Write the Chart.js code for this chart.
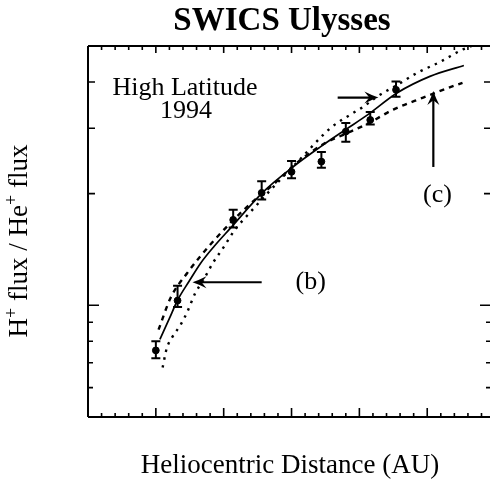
<!DOCTYPE html>
<html><head><meta charset="utf-8">
<script src="https://cdn.jsdelivr.net/npm/chart.js@4"></script>
<style>html,body{margin:0;padding:0;background:#fff;overflow:hidden;width:490px;height:484px}</style>
</head><body>
<canvas id="c" width="500" height="484" style="display:block;width:500px;height:484px"></canvas>
<script>
// ---- texts ----
const titleText = "SWICS Ulysses";
const xAxisLabel = "Heliocentric Distance (AU)";
const yAxisParts = [["H",false],["+",true],[" flux / He",false],["+",true],[" flux",false]];
const noteLines = ["High Latitude", "1994"];

// ---- measured data (distance in AU, H+/He+ flux ratio) ----
const distAU    = [1.50, 1.66, 2.07, 2.28, 2.50, 2.72, 2.90, 3.08, 3.27];
const ratio     = [0.756, 1.03, 1.70, 2.01, 2.29, 2.44, 2.94, 3.16, 3.81];
const ratioLow  = [0.72, 0.99, 1.62, 1.93, 2.20, 2.35, 2.76, 3.07, 3.65];
const ratioHigh = [0.80, 1.13, 1.81, 2.16, 2.45, 2.59, 3.10, 3.32, 4.01];

// ---- model curves ----
const solidX = [1.53, 1.60, 1.66, 1.745, 1.83, 1.93, 2.05, 2.29, 2.51, 2.71, 2.895, 3.06, 3.28, 3.52, 3.77];
const solidY = [0.809, 0.922, 1.032, 1.161, 1.299, 1.443, 1.615, 2.02, 2.36, 2.67, 2.97, 3.26, 3.74, 4.14, 4.43];
const dashX  = [1.52, 1.61, 1.73, 1.91, 2.17, 2.38, 2.55, 2.75, 2.90, 3.07, 3.25, 3.47, 3.66, 3.76];
const dashY  = [0.86, 1.05, 1.22, 1.47, 1.84, 2.14, 2.44, 2.74, 2.90, 3.10, 3.37, 3.63, 3.86, 3.98];
const dotX   = [1.55, 1.58, 1.62, 1.68, 1.73, 1.79, 1.85, 1.92, 2.00, 2.08, 2.17, 2.38, 2.56, 2.79, 2.93, 3.03, 3.13, 3.28, 3.43, 3.60, 3.76, 3.83];
const dotY   = [0.68, 0.765, 0.82, 0.883, 0.957, 1.078, 1.169, 1.30, 1.435, 1.594, 1.74, 2.11, 2.47, 3.01, 3.26, 3.43, 3.65, 3.93, 4.24, 4.54, 4.89, 5.0];

// ---- tick values ----
const xMajorTicks = [1.0, 1.5, 2.0, 2.5, 3.0, 3.5];
const xMinorTicks = [1.1,1.2,1.3,1.4,1.6,1.7,1.8,1.9,2.1,2.2,2.3,2.4,2.6,2.7,2.8,2.9,3.1,3.2,3.3,3.4,3.6,3.7,3.8,3.9];
const yMajorTicks = [1];
const yMidTicks   = [2, 3, 4];
const yMinorTicks = [0.6, 0.7, 0.8, 0.9];

// ---- annotation arrows (data coords) ----
const arrowB = {from:[2.28, 1.154], to:[1.77, 1.154]};
const arrowTop = {from:[2.84, 3.63], to:[3.14, 3.63]};
const arrowC = {from:[3.545, 2.36], to:[3.545, 3.78]};
const labelB = {text:"(b)", at:[2.53, 1.154]};
const labelC = {text:"(c)", at:[3.575, 1.98]};

const pts = (xs, ys) => xs.map((x, i) => ({x, y: ys[i]}));
const SERIF = '"Liberation Serif", "Times New Roman", serif';

function drawArrow(ctx, x1, y1, x2, y2) {
  const ang = Math.atan2(y2 - y1, x2 - x1);
  const L = 14, W = 6;
  ctx.save();
  ctx.strokeStyle = '#000'; ctx.fillStyle = '#000'; ctx.lineWidth = 2.2;
  ctx.beginPath();
  ctx.moveTo(x1, y1);
  ctx.lineTo(x2 - Math.cos(ang) * 6, y2 - Math.sin(ang) * 6);
  ctx.stroke();
  ctx.translate(x2, y2); ctx.rotate(ang);
  ctx.beginPath();
  ctx.moveTo(0, 0);
  ctx.quadraticCurveTo(-L * 0.5, -W * 0.4, -L, -W);
  ctx.lineTo(-L * 0.65, 0);
  ctx.lineTo(-L, W);
  ctx.quadraticCurveTo(-L * 0.5, W * 0.4, 0, 0);
  ctx.fill();
  ctx.restore();
}

const decorPlugin = {
  id: 'decor',
  afterDatasetsDraw(chart) {
    const {ctx, chartArea: a, scales: {x, y}} = chart;
    ctx.save();
    // error bars
    ctx.strokeStyle = '#000'; ctx.lineWidth = 2;
    distAU.forEach((d, i) => {
      const px = x.getPixelForValue(d);
      const pl = y.getPixelForValue(ratioLow[i]);
      const ph = y.getPixelForValue(ratioHigh[i]);
      ctx.beginPath();
      ctx.moveTo(px, pl); ctx.lineTo(px, ph);
      ctx.moveTo(px - 4.5, pl); ctx.lineTo(px + 4.5, pl);
      ctx.moveTo(px - 4.5, ph); ctx.lineTo(px + 4.5, ph);
      ctx.stroke();
    });
    // frame
    ctx.lineWidth = 2;
    ctx.beginPath();
    ctx.moveTo(a.left, a.top); ctx.lineTo(a.right, a.top);
    ctx.moveTo(a.left, a.top); ctx.lineTo(a.left, a.bottom);
    ctx.moveTo(a.left, a.bottom); ctx.lineTo(a.right, a.bottom);
    ctx.stroke();
    // ticks
    ctx.lineWidth = 1.6;
    ctx.beginPath();
    const xt = (v, lb, lt) => {
      const p = x.getPixelForValue(v);
      ctx.moveTo(p, a.bottom); ctx.lineTo(p, a.bottom - lb);
      ctx.moveTo(p, a.top); ctx.lineTo(p, a.top + lt);
    };
    xMajorTicks.forEach(v => xt(v, 9, 7));
    xMinorTicks.forEach(v => xt(v, 4, 4));
    const yt = (v, l) => {
      const p = y.getPixelForValue(v);
      ctx.moveTo(a.left, p); ctx.lineTo(a.left + l, p);
      ctx.moveTo(a.right, p); ctx.lineTo(a.right - l, p);
    };
    yMajorTicks.forEach(v => yt(v, 11));
    yMidTicks.forEach(v => yt(v, 7));
    yMinorTicks.forEach(v => yt(v, 5));
    ctx.stroke();
    // arrows
    [arrowB, arrowTop, arrowC].forEach(ar => {
      drawArrow(ctx, x.getPixelForValue(ar.from[0]), y.getPixelForValue(ar.from[1]),
                     x.getPixelForValue(ar.to[0]), y.getPixelForValue(ar.to[1]));
    });
    // texts
    ctx.fillStyle = '#000';
    ctx.font = '26px ' + SERIF;
    ctx.textAlign = 'left'; ctx.textBaseline = 'middle';
    ctx.fillText(labelB.text, x.getPixelForValue(labelB.at[0]), y.getPixelForValue(labelB.at[1]));
    ctx.textAlign = 'center';
    ctx.fillText(labelC.text, x.getPixelForValue(labelC.at[0]), y.getPixelForValue(labelC.at[1]));
    ctx.textBaseline = 'alphabetic';
    ctx.fillText(noteLines[0], 185, 95);
    ctx.fillText(noteLines[1], 186, 118);
    ctx.font = 'bold 33px ' + SERIF;
    ctx.fillText(titleText, 282, 30);
    ctx.font = '27px ' + SERIF;
    ctx.fillText(xAxisLabel, 290, 473);
    // y label, rotated with superscripts
    ctx.save();
    ctx.translate(27, 241);
    ctx.rotate(-Math.PI / 2);
    const big = '27px ' + SERIF, small = '18px ' + SERIF;
    let total = 0;
    yAxisParts.forEach(([t, sup]) => { ctx.font = sup ? small : big; total += ctx.measureText(t).width; });
    let cx = -total / 2;
    ctx.textAlign = 'left';
    yAxisParts.forEach(([t, sup]) => {
      ctx.font = sup ? small : big;
      ctx.fillText(t, cx, sup ? -10 : 0);
      cx += ctx.measureText(t).width;
    });
    ctx.restore();
    ctx.restore();
  }
};

new Chart(document.getElementById('c'), {
  type: 'scatter',
  data: {
    datasets: [
      {label: 'model', data: pts(solidX, solidY), showLine: true, borderColor: '#000', borderWidth: 1.7,
       pointRadius: 0, cubicInterpolationMode: 'monotone', order: 3},
      {label: '(c)', data: pts(dashX, dashY), showLine: true, borderColor: '#000', borderWidth: 2.4,
       borderDash: [5, 5], pointRadius: 0, cubicInterpolationMode: 'monotone', order: 2},
      {label: '(b)', data: pts(dotX, dotY), showLine: true, borderColor: '#000', borderWidth: 2.4,
       borderDash: [2.4, 5.5], pointRadius: 0, cubicInterpolationMode: 'monotone', order: 1},
      {label: 'data', data: pts(distAU, ratio), showLine: false, backgroundColor: '#000', borderColor: '#000',
       pointRadius: 3.4, order: 0}
    ]
  },
  options: {
    responsive: false, animation: false, devicePixelRatio: 1,
    layout: {padding: {left: 88, top: 46, right: 9, bottom: 67}},
    plugins: {legend: {display: false}, tooltip: {enabled: false}},
    scales: {
      x: {type: 'linear', min: 1.0, max: 3.97, display: false},
      y: {type: 'logarithmic', min: 0.5, max: 5, display: false}
    }
  },
  plugins: [decorPlugin]
});
</script>
</body></html>
